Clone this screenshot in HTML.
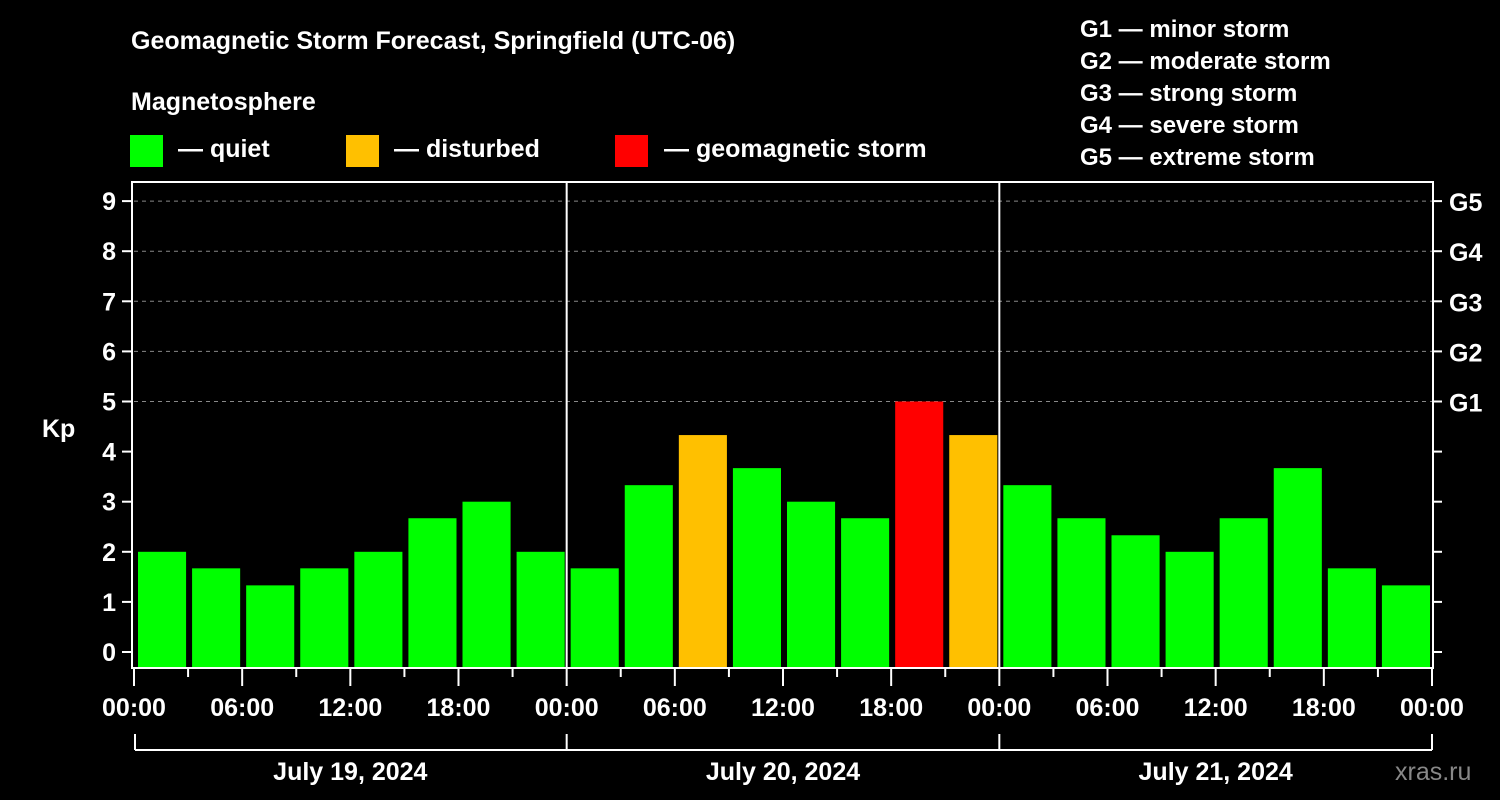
<!DOCTYPE html>
<html><head><meta charset="utf-8">
<style>
html,body{margin:0;padding:0;background:#000;}
svg{display:block;font-family:"Liberation Sans",Arial,sans-serif;font-weight:bold;}
</style></head>
<body>
<svg id="chart" width="1500" height="800" viewBox="0 0 1500 800" xmlns="http://www.w3.org/2000/svg">
<rect width="1500" height="800" fill="#000"/>
<text x="131" y="49" fill="#fff" font-size="25">Geomagnetic Storm Forecast, Springfield (UTC-06)</text>
<text x="131" y="110" fill="#fff" font-size="25">Magnetosphere</text>
<g><rect x="130" y="135" width="33" height="32" fill="#00ff00"/><text x="178" y="157" fill="#fff" font-size="25">— quiet</text></g>
<g><rect x="346" y="135" width="33" height="32" fill="#ffc000"/><text x="394" y="157" fill="#fff" font-size="25">— disturbed</text></g>
<g><rect x="615" y="135" width="33" height="32" fill="#ff0000"/><text x="664" y="157" fill="#fff" font-size="25">— geomagnetic storm</text></g>
<g fill="#fff" font-size="24">
<text x="1080" y="37">G1 — minor storm</text>
<text x="1080" y="69">G2 — moderate storm</text>
<text x="1080" y="101">G3 — strong storm</text>
<text x="1080" y="133">G4 — severe storm</text>
<text x="1080" y="165">G5 — extreme storm</text>
</g>
<text x="42" y="437" fill="#fff" font-size="25">Kp</text>
<text x="1395" y="780" fill="#888" font-size="25" font-weight="normal">xras.ru</text>
<g id="plot"></g>
</svg>
<script>
const kpValues = [2,1.67,1.33,1.67,2,2.67,3,2, 1.67,3.33,4.33,3.67,3,2.67,5,4.33, 3.33,2.67,2.33,2,2.67,3.67,1.67,1.33];
const dayLabels = ["July 19, 2024","July 20, 2024","July 21, 2024"];
const hourLabels = ["00:00","06:00","12:00","18:00"];
const yTicks = [0,1,2,3,4,5,6,7,8,9];
const gLabels = ["G1","G2","G3","G4","G5"];

const NS="http://www.w3.org/2000/svg";
const plot=document.getElementById('plot');
const L=134, R=1432, T=182, B=668;
const x0=L, pxPerHour=(R-L)/72;
const y=v=>652 - v*50.1;
const x=h=>x0+h*pxPerHour;
function mk(tag,attrs,parent){const e=document.createElementNS(NS,tag);for(const k in attrs)e.setAttribute(k,attrs[k]);(parent||plot).appendChild(e);return e;}

// grid lines
for(let v=5;v<=9;v++){
  const g=mk('line',{x1:L,x2:R,y1:y(v),y2:y(v),stroke:'#888','stroke-width':1,'stroke-dasharray':'4,4'});
  
  
}
// bars
kpValues.forEach((v,i)=>{
  const c=v>=5?'#ff0000':(v>=4?'#ffc000':'#00ff00');
  const r=mk('rect',{x:x(i*3)+4,y:y(v),width:pxPerHour*3-6,height:B-y(v),fill:c});
  
  
});
// frame
const fr=mk('rect',{x:L-2,y:T,width:R-L+3,height:B-T,fill:'none',stroke:'#fff','stroke-width':2});


// day dividers
for(let d=1;d<3;d++){
  const l=mk('line',{x1:x(d*24),x2:x(d*24),y1:T,y2:B,stroke:'#fff','stroke-width':2});
  
  
}
// y ticks
yTicks.forEach(v=>{
  mk('line',{x1:L-12,x2:L-2,y1:y(v),y2:y(v),stroke:'#fff','stroke-width':2});
  mk('line',{x1:R+1,x2:R+10,y1:y(v),y2:y(v),stroke:'#fff','stroke-width':2});
  const t=mk('text',{x:L-18,y:y(v)+9,fill:'#fff','font-size':25,'text-anchor':'end'});
  t.textContent=v;
  
  
});
gLabels.forEach((g,i)=>{
  const t=mk('text',{x:1449,y:y(5+i)+10,fill:'#fff','font-size':25});
  t.textContent=g;
  
  
});
// x ticks
for(let h=0;h<=72;h+=3){
  const long=h%6===0;
  mk('line',{x1:x(h),x2:x(h),y1:B,y2:long?686:677,stroke:'#fff','stroke-width':2});
  if(long){
    const t=mk('text',{x:x(h),y:716,fill:'#fff','font-size':25,'text-anchor':'middle'});
    t.textContent=hourLabels[(h/6)%4];
    
    
  }
}
// day brackets
mk('line',{x1:x(0)+1,x2:x(72),y1:750,y2:750,stroke:'#fff','stroke-width':2});
for(let d=0;d<=3;d++) mk('line',{x1:x(d*24)+(d===0?1:0),x2:x(d*24)+(d===0?1:0),y1:734,y2:750,stroke:'#fff','stroke-width':2});
dayLabels.forEach((s,d)=>{
  const t=mk('text',{x:x(d*24+12),y:780,fill:'#fff','font-size':25,'text-anchor':'middle'});
  t.textContent=s;
  
  
});
</script>
</body></html>
